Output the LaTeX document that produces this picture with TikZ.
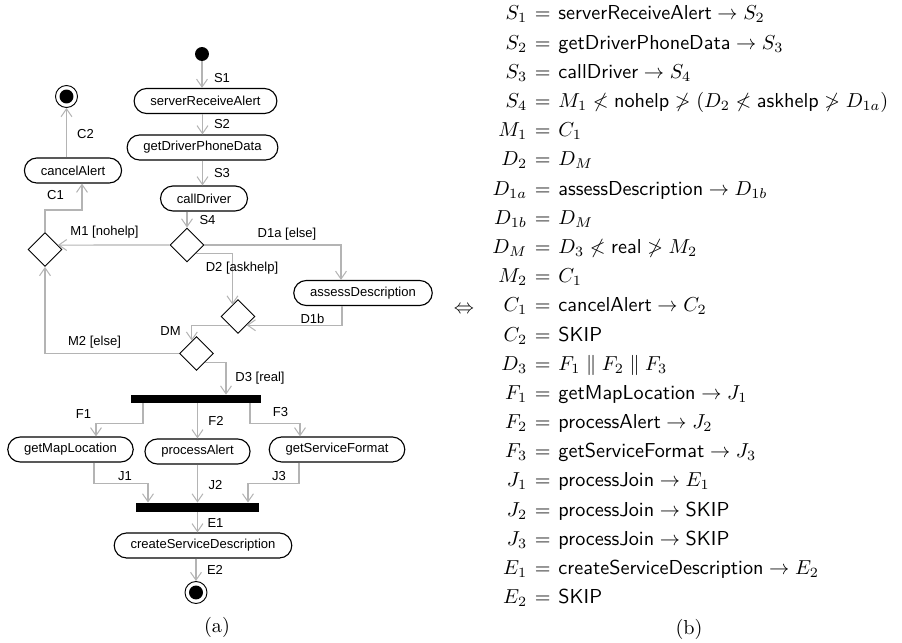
\documentclass[tikz,border=0pt]{standalone}
\usepackage{fontspec}
\newfontfamily\umlfont{Liberation Sans}
\usetikzlibrary{arrows.meta,shapes.geometric}
\definecolor{flowgray}{RGB}{180,180,180}

\begin{document}
\begin{tikzpicture}[x=0.495pt,y=-0.495pt,
	action/.style={draw,line width=0.56pt,rounded corners=6.2pt,minimum height=12.4pt,
		inner xsep=8.1pt,inner ysep=0pt,font=\umlfont\fontsize{6.45}{7.5}\selectfont},
	choice/.style={diamond,draw,line width=0.47pt,minimum size=16.8pt,inner sep=0pt},
	bar/.style={fill=black,inner sep=0pt},
	finish/.style={circle,draw,line width=0.47pt,minimum size=10.9pt,inner sep=0pt,
		path picture={\fill (path picture bounding box.center) circle (3.45pt);}},
	flow/.style={draw=flowgray,line width=0.51pt,-{Straight Barb[length=3.9pt,width=5.4pt]}},
	lbl/.style={font=\umlfont\fontsize{6.45}{7.5}\selectfont,inner sep=0pt}]
	\useasboundingbox (0,0) rectangle (902,643);

	% activity diagram
	\node[circle,fill=black,minimum size=6.9pt,inner sep=0pt] (start) at (202,54) {};
	\node[action] (recv) at (205.5,101) {serverReceiveAlert};
	\node[action] (phone) at (202.5,147.5) {getDriverPhoneData};
	\node[action] (call) at (204,198.5) {callDriver};
	\node[action] (cancel) at (73,170.5) {cancelAlert};
	\node[finish] (fin1) at (66.5,96.5) {};
	\node[choice] (dec) at (187,245) {};
	\node[choice] (mrg) at (45,249.5) {};
	\node[action] (assess) at (363,293) {assessDescription};
	\node[choice] (dm) at (238,316.5) {};
	\node[choice] (dr) at (196.5,353.5) {};
	\node[bar,minimum width=64.4pt,minimum height=3.9pt] (fork) at (196,399) {};
	\node[action] (map) at (70.5,449.5) {getMapLocation};
	\node[action] (proc) at (197.5,451.5) {processAlert};
	\node[action] (format) at (337,449.5) {getServiceFormat};
	\node[bar,minimum width=60.9pt,minimum height=4.5pt] (join) at (197.5,507.5) {};
	\node[action] (create) at (203,545.5) {createServiceDescription};
	\node[finish] (fin2) at (196,592.5) {};

	% connectors
	\draw[flow] (start) -- (start |- recv.north);
	\draw[flow] (recv.south -| phone.north) -- (phone.north);
	\draw[flow] (phone.south) -- (phone.south |- call.north);
	\draw[flow] (call.south -| dec.north) -- (dec.north);
	\coordinate (m1aim) at (mrg.center |- dec.west);
	\draw[flow] (dec.west) -- (intersection of dec.west--m1aim and mrg.north--mrg.east);
	\coordinate (c1turn) at (82,210);
	\draw[flow] (mrg.north) |- (c1turn) -- (c1turn |- cancel.south);
	\draw[flow] (cancel.north -| fin1) -- (fin1);
	\draw[flow] (dec.east) -| ([shift={(-22,0)}]assess.north);
	\draw[flow] (dec.south east) -| (dm.115);
	\draw[flow] ([shift={(-21,0)}]assess.south) |- (dm.south east);
	\draw[flow] (dm.south west) -| (dr.110);
	\draw[flow] (dr.west) -| (mrg.south);
	\draw[flow] (dr.south east) -| ([shift={(30,0)}]fork.north);
	\draw[flow] ([shift={(-53,0)}]fork.south) -- ++(0,20) -| ([shift={(25.5,0)}]map.north);
	\draw[flow] (fork.south -| proc.north) -- (proc.north);
	\draw[flow] ([shift={(54,0)}]fork.south) -- ++(0,20) -| ([shift={(-37,0)}]format.north);
	\draw[flow] ([shift={(23.5,0)}]map.south) -- ++(0,21) -| ([shift={(-49.5,0)}]join.north);
	\draw[flow] (proc.south) -- (proc.south |- join.north);
	\draw[flow] ([shift={(-38,0)}]format.south) -- ++(0,21) -| ([shift={(50.5,0)}]join.north);
	\draw[flow] (join.south) -- (join.south |- create.north);
	\draw[flow] (create.south -| fin2) -- (fin2);

	% connector labels
	\node[lbl] (tS1) at (222,78) {S1};
	\node[lbl] (tS2) at (222,124) {S2};
	\node[lbl] (tS3) at (222,173) {S3};
	\node[lbl] (tS4) at (207.5,220) {S4};
	\node[lbl] (tC1) at (55.5,195) {C1};
	\node[lbl] (tC2) at (85.5,134) {C2};
	\node[lbl] (tM1) at (104.5,232) {M1 [nohelp]};
	\node[lbl] (tD1a) at (287,234) {D1a [else]};
	\node[lbl] (tD2) at (242,268) {D2 [askhelp]};
	\node[lbl] (tD1b) at (312.5,319) {D1b};
	\node[lbl] (tDM) at (170.5,331) {DM};
	\node[lbl] (tM2) at (94.5,342) {M2 [else]};
	\node[lbl] (tD3) at (260,378) {D3 [real]};
	\node[lbl] (tF1) at (83.5,414) {F1};
	\node[lbl] (tF2) at (216,421) {F2};
	\node[lbl] (tF3) at (280.5,412) {F3};
	\node[lbl] (tJ1) at (125,476) {J1};
	\node[lbl] (tJ2) at (215.5,485) {J2};
	\node[lbl] (tJ3) at (279,476) {J3};
	\node[lbl] (tE1) at (215.5,523) {E1};
	\node[lbl] (tE2) at (215,570) {E2};
	\node (capa) at (217,627) {(a)};

	% process equations
	\node (iff) at (464,310) {$\Leftrightarrow$};
	\node[anchor=west,inner sep=0pt] (eqs) at (492,306) {\renewcommand{\arraystretch}{1.204}%
	$\begin{array}{@{}r@{\mkern7mu=\mkern7mu}l@{}}
		S_1 & \textsf{serverReceiveAlert} \rightarrow S_2\\
		S_2 & \textsf{getDriverPhoneData} \rightarrow S_3\\
		S_3 & \textsf{callDriver} \rightarrow S_4\\
		S_4 & M_1 \not< \textsf{nohelp} \not> (D_2 \not< \textsf{askhelp} \not> D_{1a})\\
		M_1 & C_1\\
		D_2 & D_M\\
		D_{1a} & \textsf{assessDescription} \rightarrow D_{1b}\\
		D_{1b} & D_M\\
		D_M & D_3 \not< \textsf{real} \not> M_2\\
		M_2 & C_1\\
		C_1 & \textsf{cancelAlert} \rightarrow C_2\\
		C_2 & \textsf{SKIP}\\
		D_3 & F_1 \parallel F_2 \parallel F_3\\
		F_1 & \textsf{getMapLocation} \rightarrow J_1\\
		F_2 & \textsf{processAlert} \rightarrow J_2\\
		F_3 & \textsf{getServiceFormat} \rightarrow J_3\\
		J_1 & \textsf{processJoin} \rightarrow E_1\\
		J_2 & \textsf{processJoin} \rightarrow \textsf{SKIP}\\
		J_3 & \textsf{processJoin} \rightarrow \textsf{SKIP}\\
		E_1 & \textsf{createServiceDescription} \rightarrow E_2\\
		E_2 & \textsf{SKIP}
	\end{array}$};
	\node (capb) at (689,629) {(b)};
\end{tikzpicture}
\end{document}
